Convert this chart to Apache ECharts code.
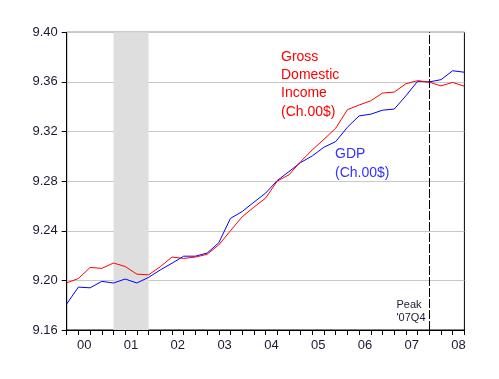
<!DOCTYPE html>
<html><head><meta charset="utf-8">
<script src="https://cdn.jsdelivr.net/npm/echarts@6/dist/echarts.min.js"></script>
<style>html,body{margin:0;padding:0;background:#fff}#c{width:499px;height:379px}</style>
</head><body><div id="c"></div>
<script>
// Quarterly observations 2000Q1 .. 2008Q3 (log scale, chained 2000$)
var quarters = ['00Q1','00Q2','00Q3','00Q4','01Q1','01Q2','01Q3','01Q4','02Q1','02Q2','02Q3','02Q4',
 '03Q1','03Q2','03Q3','03Q4','04Q1','04Q2','04Q3','04Q4','05Q1','05Q2','05Q3','05Q4',
 '06Q1','06Q2','06Q3','06Q4','07Q1','07Q2','07Q3','07Q4','08Q1','08Q2','08Q3'];
var yearLabels = ['00','01','02','03','04','05','06','07','08'];
var gdp = [9.181,9.1946,9.194,9.1992,9.1979,9.2011,9.1979,9.2024,9.2084,9.2138,9.2195,9.2195,
 9.222,9.2303,9.250,9.2555,9.263,9.2703,9.2805,9.2877,9.295,9.3004,9.3074,9.3119,
 9.3235,9.3326,9.334,9.3372,9.3381,9.3488,9.3605,9.360,9.3618,9.369,9.3678];
var gdi = [9.198,9.2015,9.2104,9.2097,9.214,9.2112,9.205,9.2045,9.211,9.2188,9.2177,9.2188,
 9.221,9.2286,9.240,9.2512,9.259,9.2663,9.280,9.2851,9.2958,9.3052,9.3138,9.3227,
 9.3376,9.3414,9.3448,9.351,9.3518,9.3585,9.361,9.3598,9.3568,9.3596,9.3565];
var recession = ['01Q1','01Q4'];
var peak = '07Q4';
var yTicks = [9.16,9.20,9.24,9.28,9.32,9.36,9.40];

var idx = function(q){ return quarters.indexOf(q); };
var toPts = function(arr){ return arr.map(function(v,i){ return [i,v]; }); };
var txt = '#1a1a33';
var font = 'Liberation Sans, Arial, sans-serif';

var chart = echarts.init(document.getElementById('c'), null, {renderer:'canvas'});
chart.setOption({
  animation:false,
  backgroundColor:'#fff',
  grid:{left:66.7, right:34.6, top:32.3, bottom:49, show:true, borderColor:'#000', borderWidth:1, backgroundColor:'transparent'},
  xAxis:[{
    type:'value', min:0, max:quarters.length-1, interval:1,
    axisLine:{lineStyle:{color:'#000',width:1}},
    axisTick:{show:true,length:5,lineStyle:{color:'#000'}},
    axisLabel:{show:false}, splitLine:{show:false}
  },{
    type:'value', min:0, max:quarters.length-1, interval:0.5, position:'bottom',
    axisLine:{show:false}, axisTick:{show:false}, splitLine:{show:false},
    axisLabel:{show:true, margin:9, color:txt, fontFamily:font, fontSize:13,
      formatter:function(v){ var k=(v-1.5)/4; if(Math.abs(k-Math.round(k))<1e-6 && Math.round(k)<yearLabels.length) return yearLabels[Math.round(k)]; return ''; }}
  }],
  yAxis:{
    type:'value', min:yTicks[0], max:yTicks[yTicks.length-1], interval:0.04,
    axisLine:{show:true,lineStyle:{color:'#000'}},
    axisTick:{show:true,length:5,lineStyle:{color:'#000'}},
    splitLine:{show:true,lineStyle:{color:'#c8c8c8',width:1}},
    axisLabel:{margin:9,color:txt,fontFamily:font,fontSize:13,formatter:function(v){return v.toFixed(2);}}
  },
  series:[{
    type:'line', data:[], silent:true, z:1,
    markArea:{silent:true, itemStyle:{color:'#dedede'}, data:[[{xAxis:idx(recession[0])},{xAxis:idx(recession[1])}]]},
    markLine:{silent:true, symbol:['none','none'], label:{show:false},
      lineStyle:{color:'#000',type:[9,2],width:1}, data:[{xAxis:idx(peak)}]}
  },{
    name:'GDP', type:'line', data:toPts(gdp), showSymbol:false, z:3,
    lineStyle:{color:'#0000ff',width:1}
  },{
    name:'GDI', type:'line', data:toPts(gdi), showSymbol:false, z:4,
    lineStyle:{color:'#ff0000',width:1}
  }],
  graphic:[
    {type:'text', left:281, top:48, style:{text:'Gross\nDomestic\nIncome\n(Ch.00$)', fill:'#ff0000', font:'14px '+font, lineHeight:18.2}},
    {type:'text', left:335, top:144, style:{text:'GDP\n(Ch.00$)', fill:'#3333ff', font:'14px '+font, lineHeight:19.4}},
    {type:'text', right:499-425.5, top:298, style:{text:'Peak\n\'07Q4', fill:txt, font:'11px '+font, lineHeight:13.3, align:'right'}}
  ]
});
</script></body></html>
